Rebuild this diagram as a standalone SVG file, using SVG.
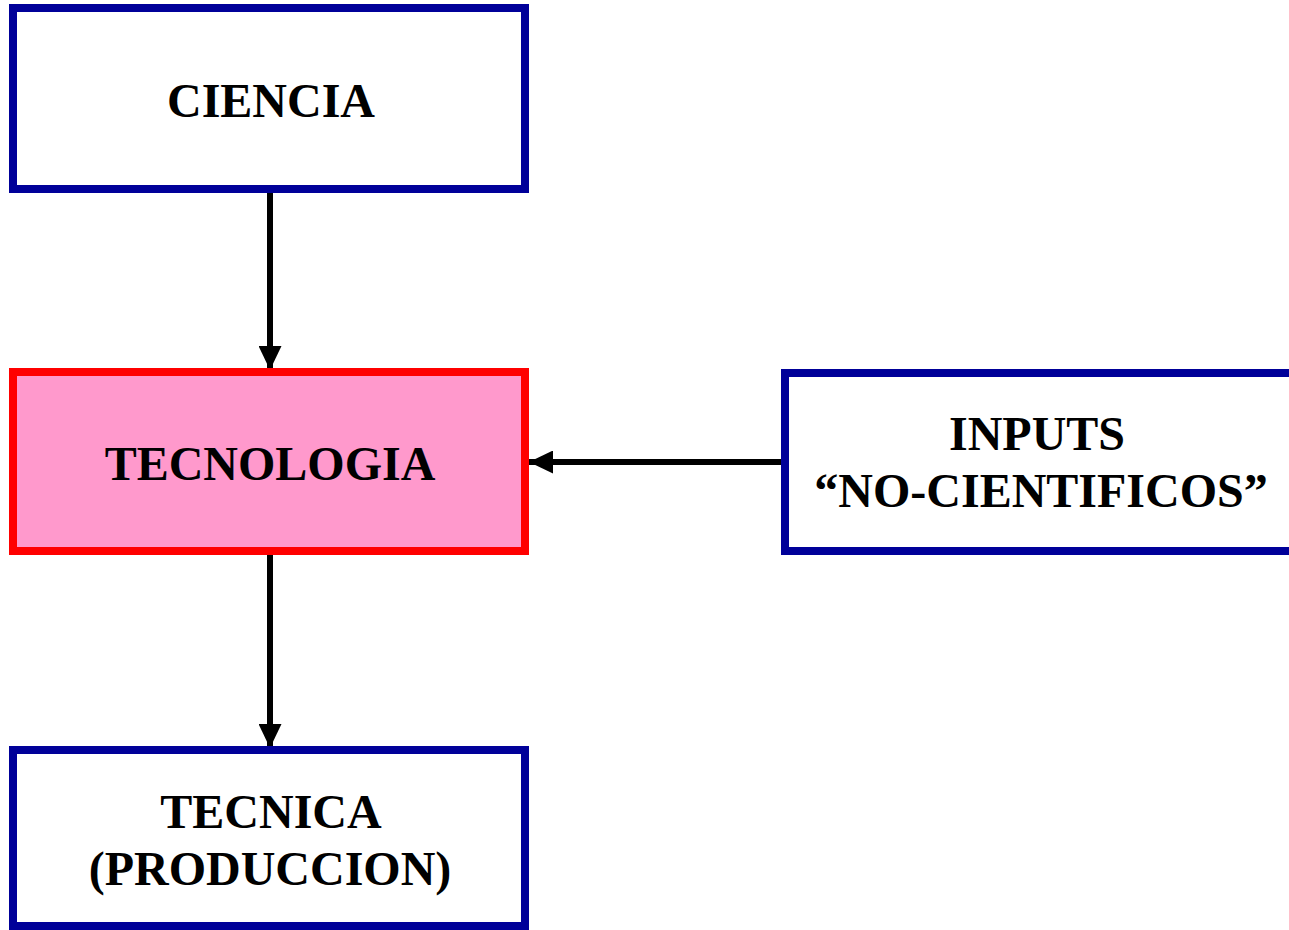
<svg xmlns="http://www.w3.org/2000/svg" width="1289" height="930" viewBox="0 0 1289 930">
<style>
.box{fill:#ffffff;stroke:#000099;stroke-width:8}
.hot{fill:#ff99cc;stroke:#ff0000;stroke-width:8}
.lbl{font-family:"Liberation Serif","Times New Roman",serif;font-weight:bold;font-size:48px;fill:#000;text-anchor:middle}
.conn{stroke:#000;stroke-width:6;fill:none}
</style>
<defs>
<marker id="ah" viewBox="0 0 24 23" refX="24" refY="11.5" markerWidth="24" markerHeight="23" markerUnits="userSpaceOnUse" orient="auto">
<path d="M0,0 L24,11.5 L0,23 Z" fill="#000"/>
</marker>
</defs>
<rect width="1289" height="930" fill="#ffffff"/>
<g id="connectors">
<line class="conn" x1="270" y1="193" x2="270" y2="370" marker-end="url(#ah)"/>
<line class="conn" x1="783" y1="462" x2="529" y2="462" marker-end="url(#ah)"/>
<line class="conn" x1="270" y1="555" x2="270" y2="748" marker-end="url(#ah)"/>
</g>
<g id="ciencia">
<rect class="box" x="13" y="8" width="512" height="181"/>
<text class="lbl" x="271" y="117">CIENCIA</text>
</g>
<g id="tecnologia">
<rect class="hot" x="13" y="372" width="512" height="179"/>
<text class="lbl" x="270" y="480">TECNOLOGIA</text>
</g>
<g id="inputs">
<rect class="box" x="785" y="373" width="512" height="178"/>
<text class="lbl" x="1037" y="450">INPUTS</text>
<text class="lbl" x="1041" y="507">“NO-CIENTIFICOS”</text>
</g>
<g id="tecnica">
<rect class="box" x="13" y="750" width="512" height="176"/>
<text class="lbl" x="271" y="828">TECNICA</text>
<text class="lbl" x="270" y="885">(PRODUCCION)</text>
</g>
</svg>
